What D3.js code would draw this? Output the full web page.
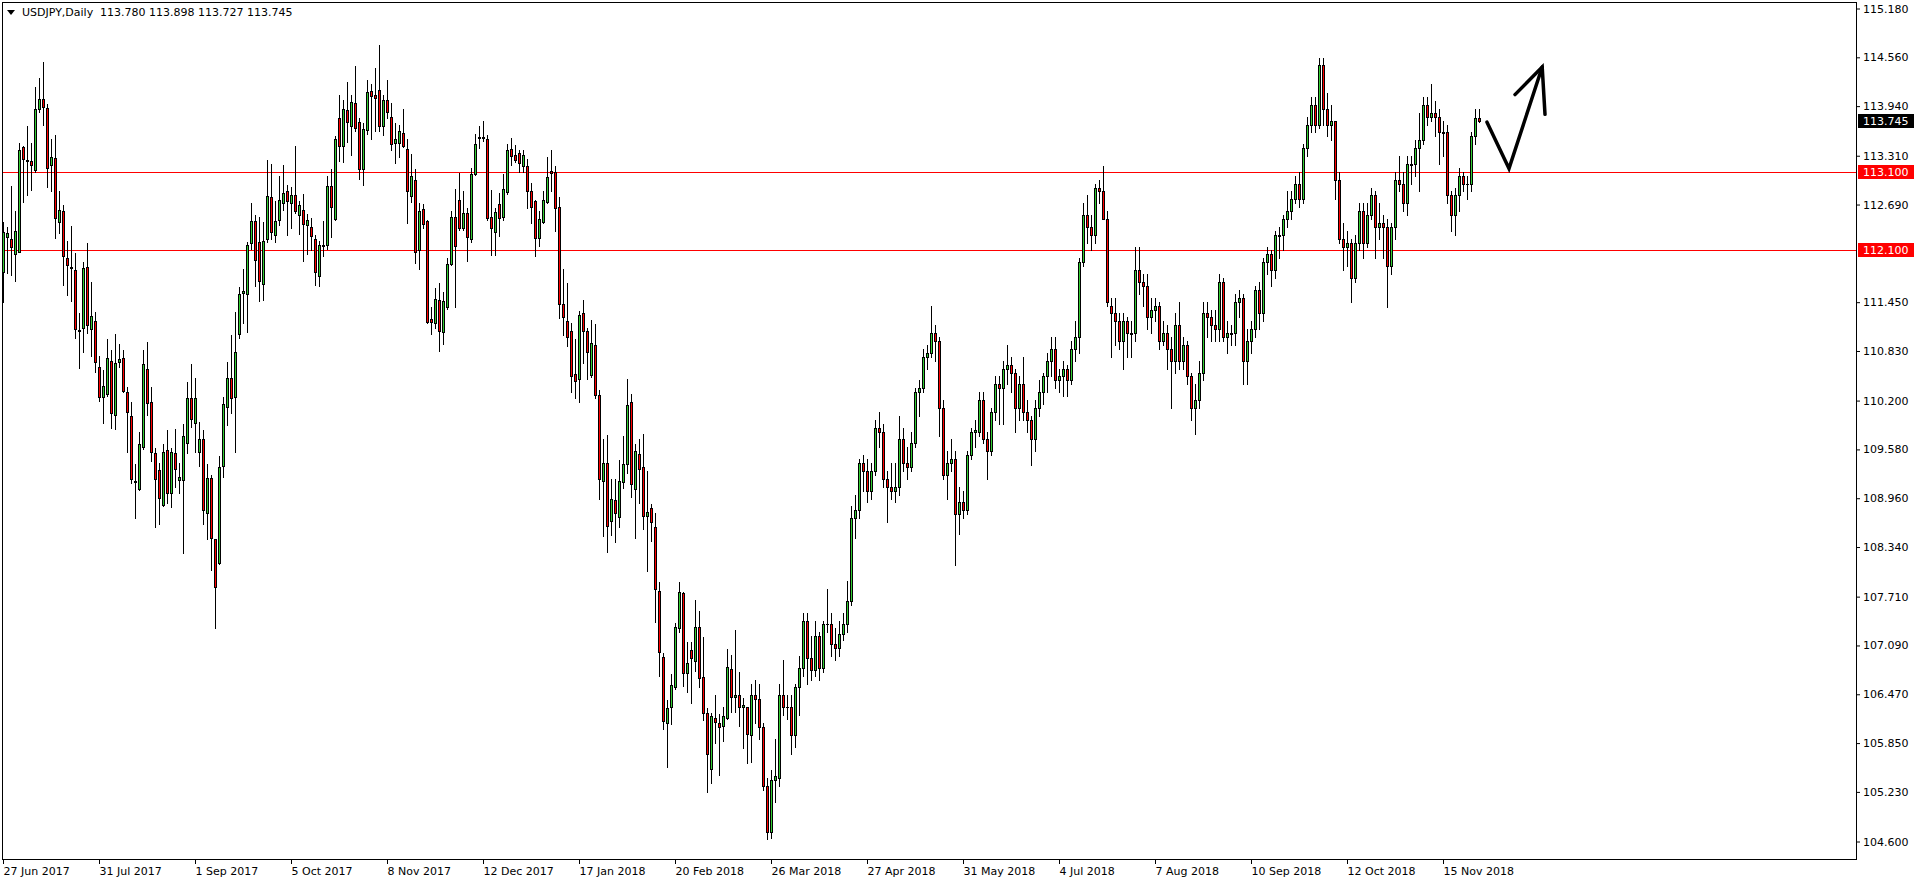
<!DOCTYPE html>
<html>
<head>
<meta charset="utf-8">
<script src="https://cdn.jsdelivr.net/npm/d3@7"></script>
<style>
  html, body { margin: 0; padding: 0; background: #fff; }
  svg { display: block; }
  text { font-family: "DejaVu Sans", sans-serif; font-size: 11px; fill: #000; }
</style>
</head>
<body>
<script>
// USDJPY daily candles, [open, high, low, close], first bar is 27 Jun 2017
var candles = [
  [111.83,112.46,111.45,112.34],[112.27,112.40,111.82,112.32],[112.25,112.92,111.79,112.15],[112.06,112.60,111.71,112.35],
  [112.08,113.47,112.08,113.38],[113.42,113.43,112.72,113.26],[113.25,113.68,112.81,113.24],[113.24,113.47,112.87,113.19],
  [113.12,114.18,113.10,113.90],[113.90,114.29,113.86,114.03],[114.03,114.50,113.70,113.92],[113.91,113.96,112.91,113.15],
  [113.19,113.52,112.85,113.29],[113.28,113.57,112.26,112.51],[112.46,112.86,112.32,112.62],[112.60,112.68,111.66,112.03],
  [112.00,112.22,111.54,111.92],[111.89,112.41,111.46,111.88],[111.85,112.07,110.99,111.10],[111.09,111.31,110.61,111.08],
  [111.12,111.96,110.81,111.88],[111.89,112.20,111.05,111.16],[111.10,111.70,110.76,111.27],[111.21,111.32,110.56,110.69],
  [110.62,110.76,110.19,110.24],[110.24,110.58,109.91,110.38],[110.28,110.98,110.25,110.74],[110.70,110.83,109.85,110.04],
  [110.01,111.04,109.83,110.67],[110.69,110.91,110.62,110.72],[110.74,110.83,110.30,110.32],[110.30,110.36,109.54,110.05],
  [110.00,110.18,109.15,109.20],[109.17,109.39,108.70,109.16],[109.07,109.80,109.06,109.64],[109.60,110.84,109.58,110.66],
  [110.60,110.94,110.01,110.16],[110.18,110.37,109.43,109.54],[109.53,109.59,108.59,109.20],[109.31,109.40,108.62,108.96],
  [108.87,109.64,108.86,109.54],[109.56,109.82,108.89,109.02],[109.02,109.59,108.84,109.54],[109.53,109.83,109.10,109.33],
  [109.19,109.40,109.02,109.22],[109.19,109.90,108.26,109.75],[109.66,110.43,109.53,110.23],[110.23,110.66,109.86,109.96],
  [109.91,110.48,109.54,110.23],[109.54,109.92,109.36,109.70],[109.70,109.82,108.62,108.81],[108.77,109.39,108.44,109.21],
  [109.21,109.25,108.04,108.45],[108.43,108.43,107.31,107.83],[108.13,109.49,108.12,109.35],[109.36,110.24,109.22,110.15],
  [110.11,110.69,109.88,110.48],[110.48,111.03,110.04,110.23],[110.24,111.32,109.54,110.81],[111.04,111.64,110.99,111.55],
  [111.56,111.87,111.18,111.59],[111.55,112.21,111.07,112.17],[112.20,112.70,112.12,112.48],[112.48,112.55,111.65,111.98],
  [112.21,112.53,111.46,111.71],[111.68,112.46,111.47,112.22],[112.24,113.25,112.21,112.79],[112.78,113.20,112.24,112.34],
  [112.30,112.73,112.21,112.48],[112.49,113.05,112.43,112.74],[112.70,113.19,112.62,112.83],[112.86,112.93,112.30,112.73],
  [112.70,112.91,112.39,112.81],[112.81,113.43,112.57,112.60],[112.55,112.73,112.31,112.68],[112.62,112.82,111.97,112.44],
  [112.43,112.56,112.06,112.49],[112.40,112.51,112.11,112.29],[112.24,112.30,111.66,111.83],[111.78,112.22,111.65,112.17],
  [112.16,112.48,112.03,112.17],[112.17,113.05,112.12,112.92],[112.92,113.14,112.27,112.65],[112.50,113.56,112.49,113.51],
  [113.78,114.08,113.24,113.43],[113.43,114.01,113.23,113.90],[113.89,114.24,113.48,113.73],[113.68,114.08,113.31,113.99],
  [113.97,114.44,113.62,113.66],[113.73,113.78,113.01,113.14],[113.14,113.72,112.93,113.64],[113.63,114.27,113.58,114.11],
  [114.13,114.22,113.52,114.06],[114.08,114.42,113.62,114.04],[114.14,114.71,113.62,113.68],[113.68,114.08,113.57,114.01],
  [114.01,114.27,113.78,113.86],[113.80,113.97,113.38,113.45],[113.47,113.72,113.21,113.52],[113.47,113.70,113.29,113.62],
  [113.59,113.90,113.42,113.43],[113.39,113.51,112.45,112.86],[112.79,113.33,112.72,113.05],[113.00,113.14,111.94,112.08],
  [112.11,112.70,111.87,112.60],[112.63,112.69,112.39,112.44],[112.48,112.49,111.18,111.19],[111.23,111.38,111.04,111.19],
  [111.18,111.62,111.12,111.49],[111.47,111.69,110.82,111.08],[111.07,111.57,110.91,111.46],[111.38,112.01,111.36,111.93],
  [111.93,112.60,111.92,112.53],[112.53,112.88,111.38,112.16],[112.74,113.09,112.36,112.39],[112.39,112.86,112.36,112.57],
  [112.58,112.64,111.97,112.27],[112.25,113.15,112.21,113.07],[113.07,113.58,113.06,113.45],[113.53,113.68,113.40,113.54],
  [113.53,113.75,113.49,113.54],[113.52,113.57,112.49,112.51],[112.53,112.87,112.04,112.39],[112.34,112.64,112.04,112.59],
  [112.69,112.83,112.29,112.51],[112.53,113.07,112.49,112.88],[112.84,113.45,112.82,113.38],[113.39,113.53,113.19,113.30],
  [113.31,113.44,113.23,113.25],[113.34,113.38,113.10,113.21],[113.17,113.38,113.10,113.31],[113.17,113.26,112.64,112.85],
  [112.86,112.96,112.45,112.65],[112.73,112.74,112.03,112.26],[112.26,112.60,112.16,112.50],[112.46,112.86,112.45,112.74],
  [112.72,113.29,112.70,113.03],[113.11,113.38,112.86,113.09],[113.10,113.17,112.35,112.64],[112.65,112.78,111.24,111.42],
  [111.42,111.87,111.03,111.26],[111.21,111.69,110.89,111.00],[111.08,111.18,110.30,110.51],[110.53,110.98,110.23,110.44],
  [110.47,111.33,110.18,111.28],[111.30,111.47,110.67,111.08],[111.08,111.12,110.47,110.81],[110.52,111.22,110.49,110.93],
  [110.90,111.17,110.23,110.27],[110.27,110.33,108.95,109.20],[109.17,109.70,108.48,109.40],[109.40,109.76,108.27,108.60],
  [108.67,109.20,108.49,108.95],[108.93,109.20,108.40,108.77],[108.72,109.44,108.59,109.17],[109.16,109.75,109.08,109.39],
  [109.39,110.47,109.27,110.14],[110.18,110.28,108.97,109.13],[109.07,109.64,108.45,109.55],[109.52,109.71,108.89,109.33],
  [109.35,109.77,108.56,108.73],[108.73,109.30,108.03,108.78],[108.83,108.88,108.41,108.65],[108.59,108.77,107.38,107.80],
  [107.78,107.89,106.70,107.00],[106.94,106.99,106.02,106.12],[106.10,106.39,105.54,106.29],[106.30,106.72,106.08,106.58],
  [106.56,107.37,106.53,107.32],[107.31,107.89,107.26,107.76],[107.75,107.76,106.57,106.73],[106.73,107.13,106.49,106.86],
  [107.03,107.13,106.35,106.93],[106.89,107.66,106.76,107.32],[107.32,107.52,106.55,106.67],[106.68,107.19,106.14,106.23],
  [106.23,106.29,105.22,105.71],[105.52,106.23,105.34,106.19],[106.16,106.46,105.85,106.11],[106.10,106.21,105.44,106.05],
  [106.06,106.30,105.87,106.19],[106.16,107.04,106.15,106.81],[106.79,106.96,106.24,106.43],[106.43,107.28,106.24,106.46],
  [106.46,106.75,106.06,106.30],[106.30,106.42,105.78,106.33],[106.30,106.30,105.59,105.96],[105.95,106.60,105.60,106.45],
  [106.45,106.65,106.10,106.40],[106.40,106.60,105.90,106.05],[106.05,106.10,105.25,105.30],[105.30,105.40,104.63,104.72],
  [104.72,105.50,104.64,105.38],[105.38,105.90,105.10,105.42],[105.40,106.60,105.30,106.45],[106.45,106.90,106.20,106.30],
  [106.30,106.45,106.15,106.30],[106.30,106.45,105.70,105.95],[105.95,106.60,105.80,106.55],[106.55,106.95,106.20,106.80],
  [106.80,107.50,106.70,107.40],[107.40,107.50,106.60,106.93],[106.93,107.20,106.65,106.77],[106.77,107.40,106.70,107.20],
  [107.20,107.25,106.65,106.80],[106.80,107.40,106.75,107.35],[107.35,107.80,107.25,107.35],[107.35,107.50,106.95,107.10],
  [107.10,107.30,106.90,107.05],[107.05,107.40,106.95,107.23],[107.23,107.50,107.15,107.35],[107.35,107.90,107.25,107.65],
  [107.65,108.85,107.60,108.70],[108.70,109.00,108.45,108.80],[108.80,109.45,108.70,109.40],[109.40,109.50,109.05,109.30],
  [109.30,109.45,108.90,109.05],[109.05,109.40,108.95,109.30],[109.30,109.95,109.25,109.85],[109.85,110.05,109.60,109.80],
  [109.80,109.90,109.10,109.20],[109.20,109.30,108.65,109.10],[109.10,109.40,108.95,109.05],[109.05,109.40,108.90,109.10],
  [109.10,110.00,109.00,109.70],[109.70,109.85,109.30,109.40],[109.40,109.60,109.20,109.35],[109.35,109.80,109.30,109.65],
  [109.65,110.35,109.60,110.30],[110.30,110.45,110.00,110.35],[110.35,110.85,110.30,110.75],[110.75,110.90,110.60,110.80],
  [110.80,111.40,110.75,111.05],[111.05,111.15,110.70,110.95],[110.95,111.00,109.75,110.10],[110.10,110.20,109.20,109.25],
  [109.25,109.55,108.95,109.40],[109.40,109.70,109.30,109.45],[109.45,109.55,108.10,108.75],[108.75,109.10,108.50,108.90],
  [108.90,109.05,108.70,108.80],[108.80,109.55,108.75,109.50],[109.50,109.85,109.45,109.80],[109.80,109.95,109.60,109.82],
  [109.80,110.30,109.75,110.20],[110.20,110.30,109.65,109.70],[109.70,109.80,109.20,109.55],[109.55,110.10,109.50,110.05],
  [110.05,110.50,109.95,110.40],[110.40,110.50,109.90,110.35],[110.35,110.70,109.90,110.60],[110.60,110.90,110.40,110.65],
  [110.65,110.75,110.30,110.55],[110.55,110.60,109.80,110.10],[110.10,110.50,109.95,110.40],[110.40,110.75,109.95,110.05],
  [110.05,110.20,109.80,109.95],[109.95,110.00,109.37,109.70],[109.70,110.20,109.55,110.10],[110.10,110.45,110.00,110.30],
  [110.30,110.55,110.15,110.50],[110.50,110.80,110.30,110.70],[110.70,111.00,110.50,110.85],[110.85,111.00,110.35,110.45],
  [110.45,110.60,110.30,110.50],[110.50,110.70,110.25,110.60],[110.60,110.65,110.25,110.45],[110.45,110.95,110.40,110.85],
  [110.85,111.20,110.70,111.00],[111.00,112.00,110.80,111.95],[111.95,112.70,111.90,112.55],[112.55,112.80,112.20,112.40],
  [112.40,112.55,112.10,112.30],[112.30,112.95,112.20,112.90],[112.90,113.00,112.70,112.85],[112.85,113.17,112.50,112.50],
  [112.50,112.60,111.40,111.45],[111.40,111.50,110.75,111.30],[111.30,111.50,110.90,111.20],[111.20,111.30,110.85,110.95],
  [110.95,111.30,110.60,111.20],[111.20,111.25,110.75,111.05],[111.05,111.20,110.75,111.04],[111.05,112.15,110.95,111.85],
  [111.85,112.15,111.55,111.70],[111.70,111.80,111.40,111.65],[111.65,111.80,111.10,111.25],[111.25,111.50,111.05,111.35],
  [111.35,111.50,111.20,111.40],[111.40,111.45,110.85,110.95],[110.95,111.20,110.90,111.05],[111.05,111.15,110.60,110.85],
  [110.85,111.00,110.10,110.70],[110.70,111.30,110.55,111.15],[111.15,111.45,110.60,110.70],[110.70,111.00,110.60,110.90],
  [110.90,110.95,110.40,110.50],[110.50,110.55,109.95,110.10],[110.10,110.40,109.77,110.20],[110.20,110.70,110.10,110.55],
  [110.55,111.45,110.45,111.30],[111.30,111.45,111.00,111.25],[111.25,111.35,110.95,111.15],[111.15,111.35,110.95,111.10],
  [111.10,111.80,110.95,111.70],[111.70,111.75,110.95,111.00],[111.00,111.20,110.80,111.05],[111.05,111.15,110.90,111.04],
  [111.05,111.55,110.90,111.45],[111.45,111.60,111.25,111.50],[111.50,111.55,110.40,110.70],[110.70,111.10,110.40,110.95],
  [110.95,111.20,110.80,111.10],[111.10,111.65,111.00,111.60],[111.60,111.70,111.10,111.30],[111.30,112.00,111.20,111.95],
  [111.95,112.15,111.80,112.05],[112.05,112.10,111.65,111.85],[111.85,112.35,111.75,112.30],[112.30,112.40,112.00,112.29],
  [112.30,112.55,112.10,112.50],[112.50,112.85,112.40,112.60],[112.60,112.85,112.50,112.75],[112.75,113.05,112.70,112.95],
  [112.95,113.10,112.65,112.75],[112.75,113.45,112.70,113.40],[113.40,113.80,113.30,113.70],[113.70,114.05,113.60,113.95],
  [113.95,114.05,113.60,113.70],[113.70,114.55,113.65,114.45],[114.45,114.55,113.70,113.90],[113.90,114.10,113.55,113.70],
  [113.70,113.95,113.50,113.75],[113.75,113.75,112.75,113.00],[113.00,113.10,112.20,112.25],[112.25,112.45,111.85,112.15],
  [112.15,112.35,111.90,112.20],[112.20,112.25,111.45,111.75],[111.75,112.30,111.70,112.20],[112.20,112.70,112.10,112.60],
  [112.60,112.70,112.00,112.20],[112.20,112.70,112.15,112.55],[112.55,112.90,112.50,112.80],[112.80,112.85,112.00,112.40],
  [112.40,112.70,112.25,112.45],[112.45,112.55,112.00,112.40],[112.40,112.50,111.38,111.90],[111.90,112.45,111.80,112.40],
  [112.40,113.10,112.25,113.00],[113.00,113.30,112.85,112.95],[112.95,113.10,112.60,112.70],[112.70,113.30,112.55,113.20],
  [113.20,113.30,112.95,113.19],[113.20,113.50,113.05,113.40],[113.40,113.85,112.85,113.50],[113.50,114.05,113.45,113.95],
  [113.95,114.05,113.70,113.80],[113.80,114.21,113.75,113.85],[113.85,114.00,113.55,113.80],[113.80,113.90,113.20,113.60],
  [113.60,113.75,113.30,113.59],[113.60,113.70,112.70,112.80],[112.80,112.85,112.35,112.55],[112.55,112.90,112.30,112.80],
  [112.80,113.15,112.60,113.05],[113.05,113.10,112.85,112.95],[112.95,113.05,112.75,112.94],[112.95,113.60,112.85,113.55],
  [113.55,113.90,113.45,113.78],[113.780,113.898,113.727,113.745]
];

// bar index of each date label on the time axis
var dateIndex = [0, 24, 48, 72, 96, 120, 144, 168, 192, 216, 240, 264, 288, 312, 336, 360];
var dateLabels = ["27 Jun 2017", "31 Jul 2017", "1 Sep 2017", "5 Oct 2017", "8 Nov 2017", "12 Dec 2017",
  "17 Jan 2018", "20 Feb 2018", "26 Mar 2018", "27 Apr 2018", "31 May 2018", "4 Jul 2018",
  "7 Aug 2018", "10 Sep 2018", "12 Oct 2018", "15 Nov 2018"];
var priceTicks = [115.180, 114.560, 113.940, 113.310, 112.690, 111.450, 110.830, 110.200, 109.580,
  108.960, 108.340, 107.710, 107.090, 106.470, 105.850, 105.230, 104.600];
var levels = [113.100, 112.100];
var lastPrice = 113.745;
var symbolName = "USDJPY,Daily";
var lastBar = [113.780, 113.898, 113.727, 113.745];
// hand drawn arrow, [bar index, price]
var arrowPath = [[371, 113.73], [376.5, 113.14], [384.8, 114.43]];
var arrowHead = [[378, 114.08], [384.8, 114.43], [385.5, 113.83]];

var W = 1916, H = 884;
var frame = { left: 2, top: 2, right: 1856, bottom: 859 };

var x = d3.scaleLinear().domain([0, 369]).range([3, 1479]);
var y = d3.scaleLinear().domain([104.6, 115.18]).range([841, 8]);
var px = function (v) { return Math.round(y(v)); };

var svg = d3.select("body").append("svg")
  .attr("width", W)
  .attr("height", H);

// frame
svg.append("rect")
  .attr("x", frame.left + 0.5).attr("y", frame.top + 0.5)
  .attr("width", frame.right - frame.left).attr("height", frame.bottom - frame.top)
  .attr("fill", "none").attr("stroke", "#000").attr("stroke-width", 1)
  .attr("shape-rendering", "crispEdges");

// support / resistance levels
svg.selectAll(".level").data(levels).join("line")
  .attr("class", "level")
  .attr("x1", frame.left + 1).attr("x2", frame.right)
  .attr("y1", function (d) { return px(d) + 0.5; })
  .attr("y2", function (d) { return px(d) + 0.5; })
  .attr("stroke", "#ff0000").attr("stroke-width", 1)
  .attr("shape-rendering", "crispEdges");

// candles
var bar = svg.append("g").attr("shape-rendering", "crispEdges")
  .selectAll("g").data(candles).join("g")
  .attr("transform", function (d, i) { return "translate(" + Math.round(x(i)) + ",0)"; });

bar.append("line")
  .attr("x1", 0.5).attr("x2", 0.5)
  .attr("y1", function (d) { return px(d[1]); })
  .attr("y2", function (d) { return px(d[2]) + 1; })
  .attr("stroke", "#000");

bar.each(function (d) {
  var g = d3.select(this);
  var top = px(Math.max(d[0], d[3]));
  var bot = px(Math.min(d[0], d[3]));
  if (bot - top < 1) {
    g.append("line")
      .attr("x1", -1).attr("x2", 2)
      .attr("y1", top + 0.5).attr("y2", top + 0.5)
      .attr("stroke", "#000");
  } else {
    g.append("rect")
      .attr("x", -0.5).attr("width", 2)
      .attr("y", top + 0.5).attr("height", bot - top)
      .attr("fill", d[3] >= d[0] ? "#32cd32" : "#ff0000")
      .attr("stroke", "#000");
  }
});

// price axis
var yAxis = d3.axisRight(y)
  .tickValues(priceTicks)
  .tickSize(3)
  .tickPadding(3)
  .tickFormat(d3.format(".3f"));
var ya = svg.append("g")
  .attr("transform", "translate(" + (frame.right + 1) + ",0.5)")
  .call(yAxis);
ya.select(".domain").remove();
ya.selectAll("text").style("font-family", "DejaVu Sans").style("font-size", "11px");

// time axis
var xAxis = d3.axisBottom(x)
  .tickValues(dateIndex)
  .tickSize(4)
  .tickPadding(3)
  .tickFormat(function (d, i) { return dateLabels[i]; });
var xa = svg.append("g")
  .attr("transform", "translate(0," + (frame.bottom + 1) + ")")
  .call(xAxis);
xa.select(".domain").remove();
xa.selectAll("text").attr("text-anchor", "start").attr("x", 0)
  .style("font-family", "DejaVu Sans").style("font-size", "11px");

// price labels on the axis
var tags = [
  { v: levels[0], bg: "#ff0000" },
  { v: levels[1], bg: "#ff0000" },
  { v: lastPrice, bg: "#000000" }
];
var tag = svg.selectAll(".tag").data(tags).join("g")
  .attr("class", "tag")
  .attr("transform", function (d) { return "translate(" + (frame.right + 2) + "," + px(d.v) + ")"; });
tag.append("rect")
  .attr("x", 0).attr("y", -7).attr("width", 56).attr("height", 14)
  .attr("fill", function (d) { return d.bg; });
tag.append("text")
  .attr("x", 5).attr("dy", "0.36em")
  .style("fill", "#fff")
  .text(function (d) { return d3.format(".3f")(d.v); });

// header
svg.append("path")
  .attr("d", "M7,10 L15,10 L11,15 Z")
  .attr("fill", "#000");
svg.append("text").attr("x", 22).attr("y", 16).text(symbolName);
svg.append("text").attr("x", 100).attr("y", 16)
  .text(lastBar.map(d3.format(".3f")).join(" "));

// arrow
var line = d3.line()
  .x(function (d) { return x(d[0]); })
  .y(function (d) { return y(d[1]); });
svg.append("path").attr("d", line(arrowPath))
  .attr("fill", "none").attr("stroke", "#000").attr("stroke-width", 3.5)
  .attr("stroke-linejoin", "miter").attr("stroke-linecap", "round");
svg.append("path").attr("d", line(arrowHead))
  .attr("fill", "none").attr("stroke", "#000").attr("stroke-width", 3.5)
  .attr("stroke-linejoin", "miter").attr("stroke-linecap", "round");
</script>
</body>
</html>
